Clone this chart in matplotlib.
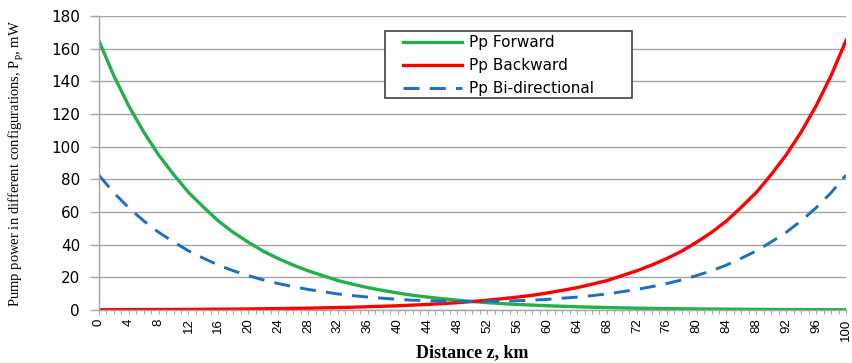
import matplotlib
matplotlib.use("Agg")
import matplotlib.pyplot as plt
from matplotlib.patches import Rectangle
from matplotlib.ticker import MultipleLocator

# distance along fibre, km (every 2 km)
distance = list(range(0, 101, 2))

# pump power, mW
pp_forward = [165, 143.5, 125, 109, 95, 83, 72, 63, 54.5, 47.5, 41.5, 36, 31.5,
              27.5, 24, 21, 18, 15.8, 13.7, 12, 10.4, 9, 7.9, 6.9, 6.0, 5.2,
              4.5, 3.9, 3.4, 3.0, 2.6, 2.3, 2.0, 1.7, 1.5, 1.3, 1.1, 1.0, 0.85,
              0.75, 0.65, 0.55, 0.5, 0.43, 0.37, 0.32, 0.28, 0.24, 0.21, 0.18, 0.16]
pp_backward = [0.16, 0.18, 0.21, 0.24, 0.28, 0.32, 0.37, 0.43, 0.5, 0.55, 0.65,
               0.75, 0.85, 1.0, 1.1, 1.3, 1.5, 1.7, 2.0, 2.3, 2.6, 3.0, 3.4, 3.9,
               4.5, 5.2, 6.0, 6.9, 7.9, 9, 10.4, 12, 13.7, 15.8, 18, 21, 24, 27.5,
               31.5, 36, 41.5, 47.5, 54.5, 63, 72, 83, 95, 109, 125, 143.5, 165]
pp_bidir = [82.6, 71.8, 62.6, 54.6, 47.6, 41.7, 36.2, 31.7, 27.5, 24.0, 21.1,
            18.4, 16.2, 14.3, 12.6, 11.2, 9.8, 8.8, 7.9, 7.2, 6.5, 6.0, 5.7, 5.4,
            5.3, 5.2, 5.3, 5.4, 5.7, 6.0, 6.5, 7.2, 7.9, 8.8, 9.8, 11.2, 12.6,
            14.3, 16.2, 18.4, 21.1, 24.0, 27.5, 31.7, 36.2, 41.7, 47.6, 54.6,
            62.6, 71.8, 82.6]

GRAY = "#a6a6a6"

fig = plt.figure(figsize=(8.52, 3.63), dpi=100)
ax = fig.add_axes([0.116, 0.146, 0.877, 0.81])

ax.plot(distance, pp_forward, color="#23b04a", lw=2.4, label="Pp Forward")
ax.plot(distance, pp_backward, color="#ff0000", lw=2.4, label="Pp Backward")
ax.plot(distance, pp_bidir, color="#1b6ec2", lw=2.1, dashes=(5.5, 3.5),
        label="Pp Bi-directional")

ax.set_xlim(0, 100)
ax.set_ylim(0, 180)
ax.xaxis.set_major_locator(MultipleLocator(4))
ax.xaxis.set_minor_locator(MultipleLocator(1))
ax.yaxis.set_major_locator(MultipleLocator(20))
ax.grid(axis="y", color=GRAY, lw=1.0)
ax.set_axisbelow(True)

for s in ("top", "right"):
    ax.spines[s].set_visible(False)
for s in ("left", "bottom"):
    ax.spines[s].set_color(GRAY)
    ax.spines[s].set_linewidth(1.0)

ax.tick_params(axis="y", length=6.5, color=GRAY, width=1.0, pad=7,
               labelsize=11, labelfontfamily="DejaVu Sans")
ax.tick_params(axis="x", which="both", length=3, color=GRAY, width=0.8,
               pad=3, labelsize=9.5, labelrotation=90,
               labelfontfamily="Liberation Sans")

ax.set_xlabel("Distance z, km", family="Liberation Serif", fontweight="bold",
              fontsize=13)
ax.xaxis.set_label_coords(0.5, -0.118)
ax.set_ylabel("Pump power in different configurations, P$_\\mathregular{p}$, mW",
              family="Liberation Serif", fontsize=10.5)
ax.yaxis.set_label_coords(-0.097, 0.5)

# legend: frame drawn separately so padding can differ left/right vs top/bottom
leg = ax.legend(loc="upper left", bbox_to_anchor=(403 / 852, 1 - 35 / 363),
                bbox_transform=fig.transFigure, frameon=False,
                prop={"family": "DejaVu Sans", "size": 11},
                handlelength=3.85, handletextpad=0.45, borderpad=0,
                labelspacing=0.52, borderaxespad=0)
leg.set_zorder(6)
ax.add_patch(Rectangle((385 / 852, 1 - 98 / 363), 247 / 852, 67 / 363,
                       transform=fig.transFigure, facecolor="white",
                       edgecolor="#404040", lw=1.2, zorder=5, clip_on=False))

fig.savefig("out.png", dpi=100)
